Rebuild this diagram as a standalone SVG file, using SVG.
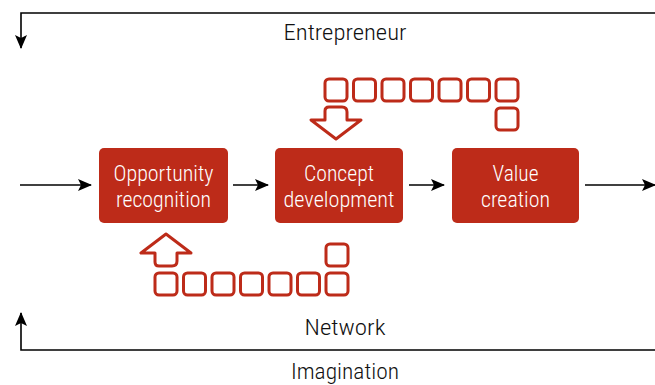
<svg xmlns="http://www.w3.org/2000/svg" width="655" height="385" viewBox="0 0 655 385">
<defs>
<marker id="ah" markerWidth="14" markerHeight="12" refX="13" refY="6" orient="auto" markerUnits="userSpaceOnUse">
<path d="M0,0 L14,6 L0,12 L3,6 Z" fill="#000"/>
</marker>
<style>
.lbl{font-family:"Roboto Condensed","Liberation Sans Narrow","DejaVu Sans Condensed",Roboto,"Liberation Sans",sans-serif;font-stretch:condensed;font-weight:300;font-size:22px;fill:#111;text-anchor:middle}
.bt{font-family:"Roboto Condensed","Liberation Sans Narrow","DejaVu Sans Condensed",Roboto,"Liberation Sans",sans-serif;font-stretch:condensed;font-weight:300;font-size:22px;fill:#fff;text-anchor:middle}
.box{fill:#bd2b19}
.sq{fill:none;stroke:#bd2b19;stroke-width:3}
.ar{fill:#fff;stroke:#bd2b19;stroke-width:3;stroke-linejoin:round}
.ln{fill:none;stroke:#000;stroke-width:1.6}
</style>
</defs>
<g id="connectors">
<path class="ln" d="M660,48 V13 H21 V48" marker-end="url(#ah)"/>
<path class="ln" d="M660,313 V350 H21 V313" marker-end="url(#ah)"/>
<line class="ln" x1="20" y1="185" x2="91" y2="185" marker-end="url(#ah)"/>
<line class="ln" x1="233" y1="185" x2="268" y2="185" marker-end="url(#ah)"/>
<line class="ln" x1="409" y1="185" x2="444" y2="185" marker-end="url(#ah)"/>
<line class="ln" x1="585" y1="185" x2="655" y2="185" marker-end="url(#ah)"/>
</g>
<g id="label-entrepreneur"><text class="lbl" x="345" y="40" textLength="123" lengthAdjust="spacingAndGlyphs">Entrepreneur</text></g>
<g id="label-network"><text class="lbl" x="345" y="335" textLength="81" lengthAdjust="spacingAndGlyphs">Network</text></g>
<g id="label-imagination"><text class="lbl" x="345" y="379" textLength="108" lengthAdjust="spacingAndGlyphs">Imagination</text></g>
<g id="node-opportunity">
<rect class="box" x="99" y="148" width="129" height="75" rx="5"/>
<text class="bt" x="163.5" y="181" textLength="100" lengthAdjust="spacingAndGlyphs">Opportunity</text>
<text class="bt" x="163.5" y="207" textLength="95" lengthAdjust="spacingAndGlyphs">recognition</text>
</g>
<g id="node-concept">
<rect class="box" x="275" y="148" width="128" height="75" rx="5"/>
<text class="bt" x="339" y="181" textLength="70" lengthAdjust="spacingAndGlyphs">Concept</text>
<text class="bt" x="339" y="207" textLength="111" lengthAdjust="spacingAndGlyphs">development</text>
</g>
<g id="node-value">
<rect class="box" x="452" y="148" width="127" height="75" rx="5"/>
<text class="bt" x="515.5" y="181" textLength="46" lengthAdjust="spacingAndGlyphs">Value</text>
<text class="bt" x="515.5" y="207" textLength="69" lengthAdjust="spacingAndGlyphs">creation</text>
</g>
<g id="top-loop">
<rect class="sq" x="325" y="79" width="22" height="22" rx="4"/>
<rect class="sq" x="353.5" y="79" width="22" height="22" rx="4"/>
<rect class="sq" x="382" y="79" width="22" height="22" rx="4"/>
<rect class="sq" x="410.5" y="79" width="22" height="22" rx="4"/>
<rect class="sq" x="439" y="79" width="22" height="22" rx="4"/>
<rect class="sq" x="467.5" y="79" width="22" height="22" rx="4"/>
<rect class="sq" x="496" y="79" width="22" height="22" rx="4"/>
<rect class="sq" x="496" y="108" width="22" height="22" rx="4"/>
<path class="ar" d="M329,107 H342 Q347,107 347,112 V120 H361 L336,139 L311,120 H325 V111 Q325,107 329,107 Z"/>
</g>
<g id="bottom-loop">
<rect class="sq" x="155" y="273" width="22" height="22" rx="4"/>
<rect class="sq" x="183.5" y="273" width="22" height="22" rx="4"/>
<rect class="sq" x="212" y="273" width="22" height="22" rx="4"/>
<rect class="sq" x="240.5" y="273" width="22" height="22" rx="4"/>
<rect class="sq" x="269" y="273" width="22" height="22" rx="4"/>
<rect class="sq" x="297.5" y="273" width="22" height="22" rx="4"/>
<rect class="sq" x="326" y="273" width="22" height="22" rx="4"/>
<rect class="sq" x="326" y="244" width="22" height="22" rx="4"/>
<path class="ar" d="M159,266 H172 Q177,266 177,261 V253 H191 L166,234 L141,253 H155 V262 Q155,266 159,266 Z"/>
</g>
</svg>
